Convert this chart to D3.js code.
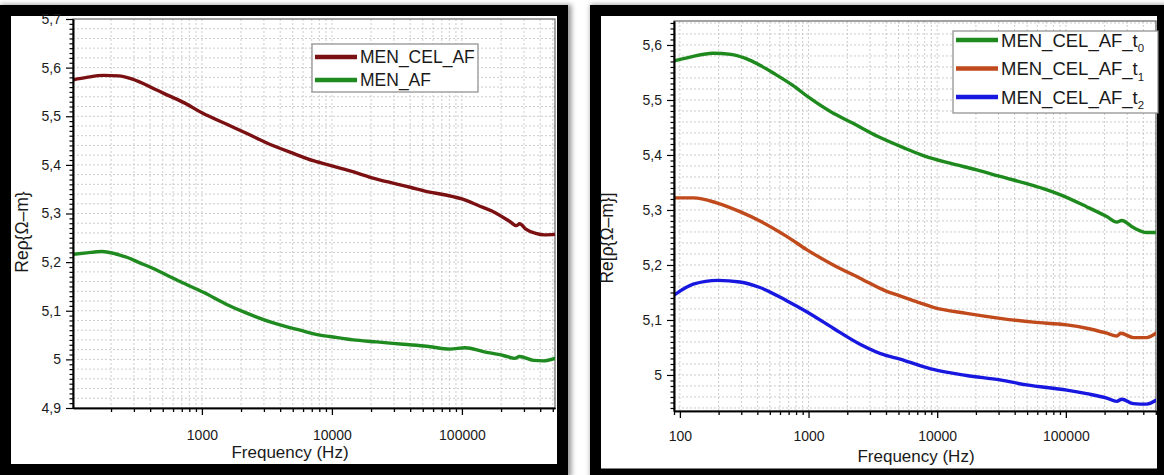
<!DOCTYPE html>
<html><head><meta charset="utf-8">
<script src="https://cdn.jsdelivr.net/npm/d3@7"></script>
<style>
body{margin:0;background:#fff}
svg{display:block}
text{font-family:"Liberation Sans",Arial,Helvetica,sans-serif;fill:#1a1a1a}
</style>
</head><body>
<svg id="c" width="1164" height="475"></svg>
<script>
// ---------- DATA ----------
// Left panel
const leftFreqCel = [102,130,175,230,280,350,440,550,740,1000,1600,2200,3100,5000,7300,10000,14000,19400,30000,40000,52000,75000,100000,135000,170000,235000,262000,278000,310000,370000,430000,520000];
const leftValCel  = [5.575,5.580,5.584,5.583,5.578,5.568,5.555,5.543,5.527,5.507,5.482,5.465,5.446,5.424,5.408,5.398,5.387,5.375,5.362,5.354,5.346,5.338,5.330,5.316,5.305,5.283,5.275,5.279,5.268,5.259,5.256,5.257];
const leftFreqAf  = [102,130,170,230,264,330,423,540,679,1026,1552,2213,3542,5690,8100,9660,14600,22100,35400,53600,81000,106000,146000,208000,256000,277000,355000,423000,520000];
const leftValAf   = [5.216,5.219,5.222,5.215,5.210,5.199,5.187,5.173,5.160,5.138,5.113,5.095,5.075,5.060,5.050,5.047,5.040,5.036,5.031,5.027,5.021,5.024,5.016,5.008,5.002,5.006,4.998,4.997,5.002];
// Right panel
const rightFreqT0 = [90,120,180,250,320,420,550,750,1000,1500,2200,3500,5500,8000,12600,20300,30800,49600,66800,90100,145000,208000,249000,272000,335000,425000,502000];
const rightValT0  = [5.571,5.578,5.585,5.583,5.576,5.563,5.547,5.527,5.505,5.478,5.458,5.433,5.413,5.398,5.385,5.373,5.361,5.348,5.339,5.328,5.306,5.288,5.278,5.281,5.268,5.259,5.259];
const rightFreqT1 = [90,127,193,293,419,676,967,1557,2512,4050,5140,7350,9330,16900,30800,56000,101600,145000,208000,249000,267000,335000,425000,502000];
const rightValT1  = [5.322,5.322,5.313,5.297,5.280,5.252,5.228,5.200,5.176,5.152,5.144,5.131,5.123,5.112,5.103,5.096,5.091,5.085,5.076,5.071,5.076,5.068,5.068,5.076];
const rightFreqT2 = [90,127,198,293,419,676,967,1557,2512,4050,5140,7350,9330,16900,30800,49600,101600,145000,208000,249000,272000,335000,425000,502000];
const rightValT2  = [5.145,5.165,5.172,5.169,5.159,5.135,5.115,5.085,5.056,5.035,5.029,5.017,5.010,4.999,4.991,4.982,4.9725,4.966,4.958,4.952,4.956,4.948,4.947,4.954];

// Ticks
const leftXTicks  = [1000,10000,100000];
const leftXTickLabels = ["1000","10000","100000"];
const rightXTicks = [100,1000,10000,100000];
const rightXTickLabels = ["100","1000","10000","100000"];
const leftYTicks  = [4.9,5.0,5.1,5.2,5.3,5.4,5.5,5.6,5.7];
const leftYTickLabels = ["4,9","5","5,1","5,2","5,3","5,4","5,5","5,6","5,7"];
const rightYTicks = [5.0,5.1,5.2,5.3,5.4,5.5,5.6];
const rightYTickLabels = ["5","5,1","5,2","5,3","5,4","5,5","5,6"];

// ---------- DRAW ----------
const svg = d3.select('#c');
const defs = svg.append('defs');
const f = defs.append('filter').attr('id','sh').attr('x','-5%').attr('y','-5%').attr('width','110%').attr('height','110%');
f.append('feGaussianBlur').attr('stdDeviation',2.5);

function frame(x,y,w,h){
  svg.append('rect').attr('x',x+2).attr('y',y+1).attr('width',w).attr('height',h)
    .attr('fill','none').attr('stroke','#9a9a9a').attr('stroke-width',14).attr('filter','url(#sh)');
  svg.append('rect').attr('x',x).attr('y',y).attr('width',w).attr('height',h)
    .attr('fill','#fff').attr('stroke','#000').attr('stroke-width',11);
}
frame(5.5,10.5,557,459);
frame(595.5,10.5,567,463.5);

function panel(p){
  const x = d3.scaleLog().domain(p.xDomain).range([p.left,p.right]);
  const y = d3.scaleLinear().domain(p.yDomain).range([p.bottom,p.top]);
  const g = svg.append('g');
  const id = 'clip'+p.name;
  defs.append('clipPath').attr('id',id).append('rect')
    .attr('x',p.left).attr('y',p.top).attr('width',p.right-p.left).attr('height',p.bottom-p.top);

  // grid
  const logT = [];
  for(let e=1;e<=6;e++) for(let m=1;m<=9;m++){const v=m*Math.pow(10,e); if(v>=p.xDomain[0]&&v<=p.xDomain[1]) logT.push(v);}
  const hT = d3.range(Math.ceil(p.yDomain[0]/0.02)*0.02, p.yDomain[1], 0.02);
  const grid = g.append('g').attr('stroke','#c6c6c6').attr('stroke-width',0.9).attr('stroke-dasharray','2,2');
  grid.selectAll('line.v').data(logT).join('line').attr('class','v')
    .attr('x1',d=>x(d)).attr('x2',d=>x(d)).attr('y1',p.top).attr('y2',p.bottom);
  grid.selectAll('line.h').data(hT).join('line').attr('class','h')
    .attr('x1',p.left).attr('x2',p.right).attr('y1',d=>y(d)).attr('y2',d=>y(d));

  // frame of plot area
  g.append('rect').attr('x',p.left).attr('y',p.top).attr('width',p.right-p.left).attr('height',p.bottom-p.top)
    .attr('fill','none').attr('stroke','#666').attr('stroke-width',1.2);

  // curves
  const line = d3.line().x(d=>x(d[0])).y(d=>y(d[1])).curve(d3.curveMonotoneX);
  const cg = g.append('g').attr('clip-path','url(#'+id+')');
  p.series.forEach(s=>{
    const pts = s.f.map((v,i)=>[v,s.v[i]]);
    cg.append('path').attr('d',line(pts)).attr('fill','none').attr('stroke',s.color)
      .attr('stroke-width',3.4).attr('stroke-linejoin','round').attr('stroke-linecap','round');
  });

  // x axis
  const minorX = logT.filter(v=>p.xTicks.indexOf(v)<0);
  const ax = g.append('g').attr('transform',`translate(0,${p.bottom})`);
  ax.call(d3.axisBottom(x).tickValues(minorX).tickFormat('').tickSize(4).tickSizeOuter(0));
  const ax2 = g.append('g').attr('transform',`translate(0,${p.bottom})`);
  ax2.call(d3.axisBottom(x).tickValues(p.xTicks).tickFormat((d,i)=>p.xTickLabels[i]).tickSize(7).tickSizeOuter(0).tickPadding(p.xPad));
  [ax,ax2].forEach(a=>{a.select('.domain').attr('stroke','#000').attr('stroke-width',1.6);
    a.selectAll('.tick line').attr('stroke','#000').attr('stroke-width',1.3);});
  ax2.selectAll('text').attr('font-size',14).attr('fill','#1a1a1a');

  // y axis
  const minorY = d3.range(Math.ceil(p.yDomain[0]/0.01-1e-6), Math.floor(p.yDomain[1]/0.01+1e-6)+1).map(k=>k*0.01)
    .filter(v=>!p.yTicks.some(t=>Math.abs(t-v)<1e-6));
  const ay = g.append('g').attr('transform',`translate(${p.left},0)`);
  ay.call(d3.axisLeft(y).tickValues(minorY).tickFormat('').tickSize(3.5).tickSizeOuter(0));
  const ay2 = g.append('g').attr('transform',`translate(${p.left},0)`);
  ay2.call(d3.axisLeft(y).tickValues(p.yTicks).tickFormat((d,i)=>p.yTickLabels[i]).tickSize(7).tickSizeOuter(0).tickPadding(5));
  [ay,ay2].forEach(a=>{a.select('.domain').attr('stroke','#000').attr('stroke-width',1.6);
    a.selectAll('.tick line').attr('stroke','#000').attr('stroke-width',1.2);});
  ay2.selectAll('text').attr('font-size',14).attr('fill','#1a1a1a');

  // axis titles
  g.append('text').attr('x',p.xTitle[0]).attr('y',p.xTitle[1]).attr('text-anchor','middle')
    .attr('font-size',17).text('Frequency (Hz)');
  g.append('text').attr('transform',`translate(${p.yTitle[0]},${p.yTitle[1]}) rotate(-90)`).attr('text-anchor','middle')
    .attr('font-size',17.5).text(p.yLabel);

  // legend
  const L = p.legend;
  g.append('rect').attr('x',L.x).attr('y',L.y).attr('width',L.w).attr('height',L.h)
    .attr('fill','#fff').attr('stroke','#8a8a8a').attr('stroke-width',1.2);
  p.series.forEach((s,i)=>{
    const yy = L.y + L.first + i*L.step;
    g.append('line').attr('x1',L.x+3).attr('x2',L.x+45).attr('y1',yy).attr('y2',yy)
      .attr('stroke',s.color).attr('stroke-width',4.5);
    const t = g.append('text').attr('x',L.x+48).attr('y',yy+L.fs*0.36).attr('font-size',L.fs);
    t.append('tspan').text(s.name);
    if(s.sub!==undefined) t.append('tspan').attr('font-size',L.fs*0.62).attr('dy',L.fs*0.3).text(s.sub);
  });
}

panel({
  name:'L', left:73, right:555, top:19, bottom:408,
  xDomain:[102,520000], yDomain:[4.9,5.7],
  xTicks:leftXTicks, xTickLabels:leftXTickLabels, xPad:15,
  yTicks:leftYTicks, yTickLabels:leftYTickLabels,
  xTitle:[290,458], yTitle:[28,232], yLabel:'Reρ{Ω–m}',
  series:[
    {name:'MEN_CEL_AF', f:leftFreqCel, v:leftValCel, color:'#7a1012'},
    {name:'MEN_AF', f:leftFreqAf, v:leftValAf, color:'#1f8a1f'}
  ],
  legend:{x:312,y:44,w:166,h:48,first:13,step:23,fs:17.5}
});

panel({
  name:'R', left:674, right:1156, top:21, bottom:411,
  xDomain:[90,502000], yDomain:[4.9345,5.6436],
  xTicks:rightXTicks, xTickLabels:rightXTickLabels, xPad:13,
  yTicks:rightYTicks, yTickLabels:rightYTickLabels,
  xTitle:[916,462], yTitle:[613,238], yLabel:'Re[ρ{Ω–m}]',
  series:[
    {name:'MEN_CEL_AF_t', sub:'0', f:rightFreqT0, v:rightValT0, color:'#1e8a1e'},
    {name:'MEN_CEL_AF_t', sub:'1', f:rightFreqT1, v:rightValT1, color:'#c04a1c'},
    {name:'MEN_CEL_AF_t', sub:'2', f:rightFreqT2, v:rightValT2, color:'#1717e0'}
  ],
  legend:{x:953,y:31,w:205,h:82,first:9,step:28.5,fs:18.5}
});
</script>
</body></html>
